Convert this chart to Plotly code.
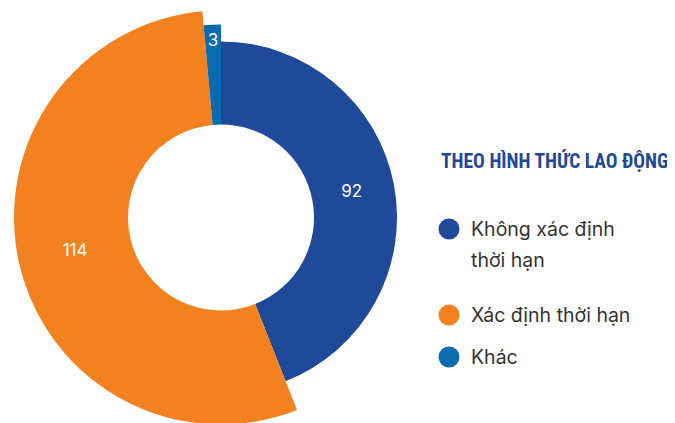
import numpy as np
import plotly.graph_objects as go

# ── Data ──────────────────────────────────────────────────────────────────────
labels = ['Không xác định thời hạn', 'Xác định thời hạn', 'Khác']
values = [92, 114, 3]
colors = ['#1F4A9A', '#F48120', '#0A6BB0']

# style: each slice has its own outer radius (variable-radius donut), in px
inner_r = 93
outer_r = [176, 207, 193]
label_r = [133, 150, 176]

# ── Geometry from values ──────────────────────────────────────────────────────
vals = np.array(values, dtype=float)
widths = vals / vals.sum() * 360
starts = np.concatenate([[0], np.cumsum(widths)[:-1]])
mids = starts + widths / 2

W, H = 675, 423
OFF = 8          # page body margin of the html page
R = 209.5        # polar radius in px -> radial units == px
cx, cy = 221 - OFF, 217.5 - OFF

fig = go.Figure()

fig.add_trace(go.Barpolar(
    theta=mids, width=widths,
    base=[inner_r] * len(values),
    r=[o - inner_r for o in outer_r],
    marker=dict(color=colors, line=dict(width=0)),
    hoverinfo='skip', showlegend=False
))

fig.add_trace(go.Scatterpolar(
    theta=mids, r=label_r, mode='text',
    text=[str(v) for v in values],
    textfont=dict(family='Inter', size=17, color='white'),
    hoverinfo='skip', showlegend=False
))

fig.update_layout(
    width=W, height=H,
    margin=dict(l=0, r=0, t=0, b=0),
    paper_bgcolor='white', plot_bgcolor='white',
    polar=dict(
        domain=dict(x=[(cx - R) / W, (cx + R) / W],
                    y=[1 - (cy + R) / H, 1 - (cy - R) / H]),
        bgcolor='rgba(0,0,0,0)',
        radialaxis=dict(range=[0, R], visible=False, showgrid=False),
        angularaxis=dict(rotation=90, direction='clockwise', visible=False,
                         showgrid=False),
    ),
)

# ── Custom legend ─────────────────────────────────────────────────────────────
def px(x, y):
    return (x - OFF) / W, 1 - (y - OFF) / H

tx, ty = px(439, 161)
fig.add_annotation(
    x=tx, y=ty, xref='paper', yref='paper',
    xanchor='left', yanchor='middle', showarrow=False,
    text='<b>THEO HÌNH THỨC LAO ĐỘNG</b>',
    font=dict(family='Roboto Condensed, Roboto', size=19.5, color='#1F4A9A')
)

legend_rows = [(229, ['Không xác định', 'thời hạn']),
               (315, ['Xác định thời hạn']),
               (357, ['Khác'])]
for (yy, lines), c in zip(legend_rows, colors):
    x0, y0 = px(449 - 10.5, yy + 10.5)
    x1, y1 = px(449 + 10.5, yy - 10.5)
    fig.add_shape(type='circle', xref='paper', yref='paper',
                  x0=x0, x1=x1, y0=y0, y1=y1,
                  fillcolor=c, line=dict(width=0))
    for k, line in enumerate(lines):
        ax, ay = px(469, yy + 31 * k)
        fig.add_annotation(
            x=ax, y=ay, xref='paper', yref='paper',
            xanchor='left', yanchor='middle', showarrow=False,
            text=line, font=dict(family='Inter', size=19.5, color='#333333')
        )

fig.write_html("out.html")
